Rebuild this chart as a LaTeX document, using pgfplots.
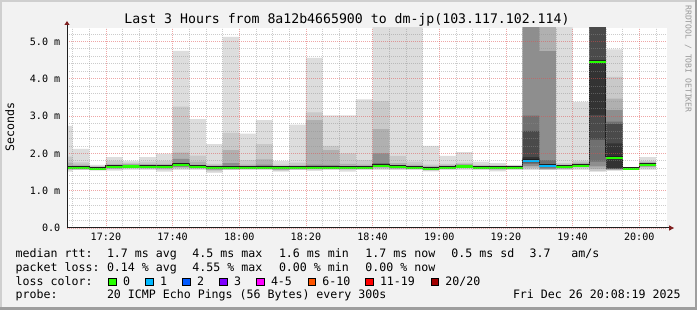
\documentclass[border=0pt]{standalone}
\usepackage{fontspec}
\setmonofont{DejaVu Sans Mono}
\usepackage{pgfplots}
\usepackage{pgfplotstable}
\pgfplotsset{compat=1.18}
\definecolor{bg}{HTML}{F2F2F2}
\definecolor{shadeA}{HTML}{CFCFCF}
\definecolor{shadeB}{HTML}{9E9E9E}
\definecolor{sA}{HTML}{DDDDDD}
\definecolor{sB}{HTML}{C9C9C9}
\definecolor{sC}{HTML}{B0B0B0}
\definecolor{sD}{HTML}{8E8E8E}
\definecolor{sE}{HTML}{707070}
\definecolor{sF}{HTML}{4A4A4A}
\definecolor{sG}{HTML}{333333}
\definecolor{mgrid}{HTML}{DE4F4F}
\definecolor{gridc}{HTML}{8F8F8F}
\definecolor{arrowc}{HTML}{7F1F1F}
\definecolor{axisc}{HTML}{1F1F1F}
\definecolor{medc}{HTML}{202020}
\definecolor{l0}{HTML}{26FF00}
\definecolor{l1}{HTML}{00B8FF}
\definecolor{l2}{HTML}{0059FF}
\definecolor{l3}{HTML}{7E00FF}
\definecolor{l45}{HTML}{FF00FF}
\definecolor{l610}{HTML}{FF5500}
\definecolor{l1119}{HTML}{FF0000}
\definecolor{l20}{HTML}{A00000}
\newcommand{\lf}{\fontsize{11.6}{13}\selectfont\ttfamily}
\newcommand{\tf}{\fontsize{10.1}{11}\selectfont\ttfamily}

\pgfplotstableread{
x lo1 lo2 lo3 lo4 lo5 lo6 lo7 hi7 hi6 hi5 hi4 hi3 hi2 hi1 med
5 1.51 1.55 1.57 1.58 1.59 1.60 1.61 1.61 1.63 1.64 1.66 1.75 1.91 2.74 1.61
10 1.55 1.56 1.57 1.58 1.59 1.60 1.61 1.61 1.63 1.64 1.66 1.70 1.76 2.12 1.61
15 1.54 1.55 1.56 1.57 1.58 1.58 1.59 1.59 1.61 1.62 1.63 1.64 1.66 1.69 1.59
20 1.54 1.57 1.59 1.60 1.61 1.62 1.63 1.63 1.65 1.66 1.68 1.72 1.80 1.90 1.63
25 1.56 1.59 1.61 1.62 1.63 1.64 1.65 1.65 1.67 1.68 1.70 1.72 1.75 1.80 1.65
30 1.55 1.58 1.60 1.61 1.62 1.63 1.64 1.64 1.66 1.67 1.69 1.72 1.78 1.90 1.64
35 1.51 1.56 1.59 1.60 1.61 1.62 1.63 1.63 1.65 1.66 1.68 1.72 1.80 1.99 1.63
40 1.55 1.59 1.62 1.64 1.65 1.67 1.68 1.68 1.71 1.74 1.85 2.02 3.25 4.75 1.68
45 1.55 1.58 1.60 1.61 1.62 1.62 1.63 1.63 1.65 1.66 1.69 1.78 1.94 2.92 1.63
50 1.48 1.52 1.55 1.57 1.58 1.59 1.60 1.60 1.62 1.63 1.65 1.68 1.72 2.25 1.60
55 1.55 1.56 1.57 1.58 1.59 1.59 1.60 1.60 1.62 1.64 1.74 2.09 2.55 5.12 1.60
60 1.55 1.57 1.58 1.59 1.60 1.60 1.61 1.61 1.63 1.64 1.66 1.70 1.82 2.53 1.61
65 1.55 1.57 1.58 1.59 1.60 1.60 1.61 1.61 1.63 1.65 1.70 1.84 2.25 2.89 1.61
70 1.51 1.54 1.56 1.57 1.58 1.59 1.60 1.60 1.62 1.63 1.64 1.66 1.70 1.79 1.60
75 1.55 1.56 1.57 1.58 1.59 1.59 1.60 1.60 1.62 1.63 1.65 1.68 1.75 2.77 1.60
80 1.53 1.56 1.58 1.59 1.60 1.60 1.61 1.61 1.63 1.65 1.70 2.89 3.10 4.56 1.61
85 1.55 1.57 1.58 1.59 1.60 1.60 1.61 1.61 1.63 1.65 1.69 2.09 2.20 3.02 1.61
90 1.51 1.55 1.58 1.59 1.60 1.60 1.61 1.61 1.63 1.64 1.66 1.72 2.00 3.02 1.61
95 1.55 1.57 1.58 1.59 1.60 1.60 1.61 1.61 1.63 1.64 1.66 1.70 1.82 3.45 1.61
100 1.55 1.58 1.61 1.63 1.64 1.66 1.67 1.67 1.69 1.74 2.00 2.65 3.40 5.60 1.67
105 1.55 1.57 1.59 1.60 1.61 1.62 1.63 1.63 1.65 1.66 1.68 1.74 1.93 5.60 1.63
110 1.55 1.57 1.58 1.59 1.60 1.60 1.61 1.61 1.63 1.64 1.66 1.70 1.78 5.60 1.61
115 1.52 1.54 1.55 1.56 1.57 1.57 1.58 1.58 1.60 1.61 1.63 1.66 1.70 2.20 1.58
120 1.55 1.57 1.58 1.59 1.60 1.60 1.61 1.61 1.63 1.64 1.66 1.68 1.72 1.93 1.61
125 1.55 1.59 1.61 1.62 1.63 1.64 1.65 1.65 1.67 1.68 1.70 1.72 1.75 2.03 1.65
130 1.55 1.57 1.58 1.59 1.60 1.60 1.61 1.61 1.63 1.64 1.65 1.67 1.70 1.78 1.61
135 1.52 1.55 1.57 1.58 1.59 1.59 1.60 1.60 1.62 1.63 1.64 1.66 1.69 1.74 1.60
140 1.55 1.57 1.58 1.59 1.60 1.60 1.61 1.61 1.62 1.63 1.64 1.65 1.67 1.69 1.61
145 1.55 1.58 1.62 1.66 1.72 1.76 1.78 1.90 2.60 3.01 5.60 5.60 5.60 5.60 1.80
150 1.55 1.56 1.57 1.58 1.62 1.65 1.66 1.68 1.70 1.82 4.74 5.60 5.60 5.60 1.67
155 1.55 1.57 1.59 1.60 1.61 1.62 1.63 1.63 1.65 1.66 1.68 1.70 1.74 5.60 1.63
160 1.56 1.60 1.63 1.64 1.65 1.66 1.67 1.67 1.69 1.70 1.72 1.75 1.80 3.38 1.67
165 1.51 1.52 1.58 1.65 1.78 2.37 3.03 4.45 5.60 5.60 5.60 5.60 5.60 5.60 4.45
170 1.53 1.55 1.56 1.57 1.58 1.59 1.60 2.27 2.79 2.85 3.16 3.47 4.05 4.79 1.88
175 1.55 1.56 1.57 1.57 1.58 1.58 1.59 1.59 1.60 1.61 1.61 1.62 1.62 1.63 1.59
180 1.56 1.60 1.63 1.65 1.66 1.68 1.69 1.69 1.71 1.72 1.74 1.77 1.80 1.90 1.69
185 1.56 1.60 1.63 1.65 1.66 1.68 1.69 1.69 1.71 1.72 1.74 1.77 1.80 1.90 1.69
}\smoke

\begin{document}
\begin{tikzpicture}
\useasboundingbox (0,0) rectangle (697pt,310pt);
\fill[bg] (0,0) rectangle (697pt,310pt);
\fill[shadeA] (0,0) rectangle (2pt,310pt);
\fill[shadeA] (0,308pt) rectangle (697pt,310pt);
\fill[shadeB] (694.5pt,0) rectangle (697pt,310pt);
\fill[shadeB] (0,0) rectangle (697pt,2.5pt);

\begin{axis}[
  name=ax, at={(67pt,82pt)}, anchor=south west,
  scale only axis, width=600pt, height=200pt,
  xmin=8.32, xmax=188.32, ymin=0, ymax=5.36,
  axis background/.style={fill=white},
  axis lines=left,
  axis line style={-, draw=axisc, line width=1pt},
  axis on top,
  xtick={20,40,60,80,100,120,140,160,180},
  xticklabels={17:20,17:40,18:00,18:20,18:40,19:00,19:20,19:40,20:00},
  minor xtick={10,15,25,30,35,45,50,55,65,70,75,85,90,95,105,110,115,125,130,135,145,150,155,165,170,175,185},
  ytick={0,1,2,3,4,5},
  yticklabels={0.0,1.0 m,2.0 m,3.0 m,4.0 m,5.0 m},
  minor ytick={0.2,0.4,0.6,0.8,1.2,1.4,1.6,1.8,2.2,2.4,2.6,2.8,3.2,3.4,3.6,3.8,4.2,4.4,4.6,4.8,5.2},
  grid=both,
  major grid style={color=mgrid, opacity=0.5, line width=0.8pt, dash pattern=on 1pt off 1pt},
  minor grid style={color=gridc, opacity=0.45, line width=0.8pt, dash pattern=on 1pt off 1pt},
  major tick length=0pt, minor tick length=0pt,
  xticklabel style={anchor=base, inner sep=0pt, yshift=-12.7pt, font=\tf},
  yticklabel style={anchor=east, inner sep=0pt, xshift=-6.5pt, font=\tf},
]
% smoke layers (painted from outside in)
\addplot[const plot, draw=none, fill=sA] table[x=x,y=hi1]{\smoke} \closedcycle;
\addplot[const plot, draw=none, fill=sB] table[x=x,y=hi2]{\smoke} \closedcycle;
\addplot[const plot, draw=none, fill=sC] table[x=x,y=hi3]{\smoke} \closedcycle;
\addplot[const plot, draw=none, fill=sD] table[x=x,y=hi4]{\smoke} \closedcycle;
\addplot[const plot, draw=none, fill=sE] table[x=x,y=hi5]{\smoke} \closedcycle;
\addplot[const plot, draw=none, fill=sF] table[x=x,y=hi6]{\smoke} \closedcycle;
\addplot[const plot, draw=none, fill=sG] table[x=x,y=hi7]{\smoke} \closedcycle;
\addplot[const plot, draw=none, fill=sF] table[x=x,y=lo7]{\smoke} \closedcycle;
\addplot[const plot, draw=none, fill=sE] table[x=x,y=lo6]{\smoke} \closedcycle;
\addplot[const plot, draw=none, fill=sD] table[x=x,y=lo5]{\smoke} \closedcycle;
\addplot[const plot, draw=none, fill=sC] table[x=x,y=lo4]{\smoke} \closedcycle;
\addplot[const plot, draw=none, fill=sB] table[x=x,y=lo3]{\smoke} \closedcycle;
\addplot[const plot, draw=none, fill=sA] table[x=x,y=lo2]{\smoke} \closedcycle;
\addplot[const plot, draw=none, fill=white] table[x=x,y=lo1]{\smoke} \closedcycle;
% median
\addplot[const plot, draw=medc, line width=0.9pt, yshift=1.4pt] table[x=x,y=med]{\smoke};
\addplot[jump mark left, draw=l0, line width=2.2pt] table[x=x,y=med]{\smoke};
\addplot[jump mark left, draw=l1, line width=2.2pt] coordinates {(145,1.80) (150,1.67) (155,1.67)};
\end{axis}

\draw[axisc, line width=1pt] (ax.north west) -- ++(0,3pt);
\fill[arrowc] ([xshift=-2.6pt,yshift=3pt]ax.north west) -- ++(5.2pt,0) -- ++(-2.6pt,4pt) -- cycle;
\draw[axisc, line width=1pt] (ax.south east) -- ++(2pt,0);
\fill[arrowc] ([xshift=2pt,yshift=-2.7pt]ax.south east) -- ++(0,5.4pt) -- ++(5pt,-2.7pt) -- cycle;

\node[anchor=base, inner sep=0pt, font=\fontsize{13.2}{14}\selectfont\ttfamily] at (347pt,286pt) {Last 3 Hours from 8a12b4665900 to dm-jp(103.117.102.114)};
\node[rotate=90, anchor=base, inner sep=0pt, font=\lf] at (14pt,183pt) {Seconds};
\node[rotate=-90, anchor=base, inner sep=0pt, font=\fontsize{8.1}{9}\selectfont\ttfamily, text=black!40] at (685.5pt,251pt) {RRDTOOL / TOBI OETIKER};

\begin{scope}[every node/.style={anchor=base west, inner sep=0pt, font=\lf}]
\node at (15.5pt,52.3pt) {median rtt:};
\node at (106.8pt,52.3pt) {1.7 ms avg};
\node at (192.2pt,52.3pt) {4.5 ms max};
\node at (278.8pt,52.3pt) {1.6 ms min};
\node at (365.2pt,52.3pt) {1.7 ms now};
\node at (451.2pt,52.3pt) {0.5 ms sd};
\node at (529.5pt,52.3pt) {3.7};
\node at (571.2pt,52.3pt) {am/s};
\node at (15.5pt,38.7pt) {packet loss:};
\node at (106.8pt,38.7pt) {0.14 \% avg};
\node at (192.2pt,38.7pt) {4.55 \% max};
\node at (278.8pt,38.7pt) {0.00 \% min};
\node at (365.2pt,38.7pt) {0.00 \% now};
\node at (15.5pt,24.7pt) {loss color:};
\node at (122.8pt,24.7pt) {0};
\node at (159.8pt,24.7pt) {1};
\node at (196.8pt,24.7pt) {2};
\node at (233.8pt,24.7pt) {3};
\node at (270.8pt,24.7pt) {4-5};
\node at (322.2pt,24.7pt) {6-10};
\node at (379.8pt,24.7pt) {11-19};
\node at (445.2pt,24.7pt) {20/20};
\node at (15.5pt,11pt) {probe:};
\node at (106.8pt,11pt) {20 ICMP Echo Pings (56 Bytes) every 300s};
\node at (512.8pt,11pt) {Fri Dec 26 20:08:19 2025};
\end{scope}
\foreach \bx/\col in {108.7/l0,145.7/l1,182.7/l2,219.7/l3,256.7/l45,308/l610,365.7/l1119,431/l20} {
  \filldraw[fill=\col, draw=black, line width=0.8pt] (\bx pt,24.3pt) rectangle ++(7.3pt,7.5pt);
}
\end{tikzpicture}
\end{document}
